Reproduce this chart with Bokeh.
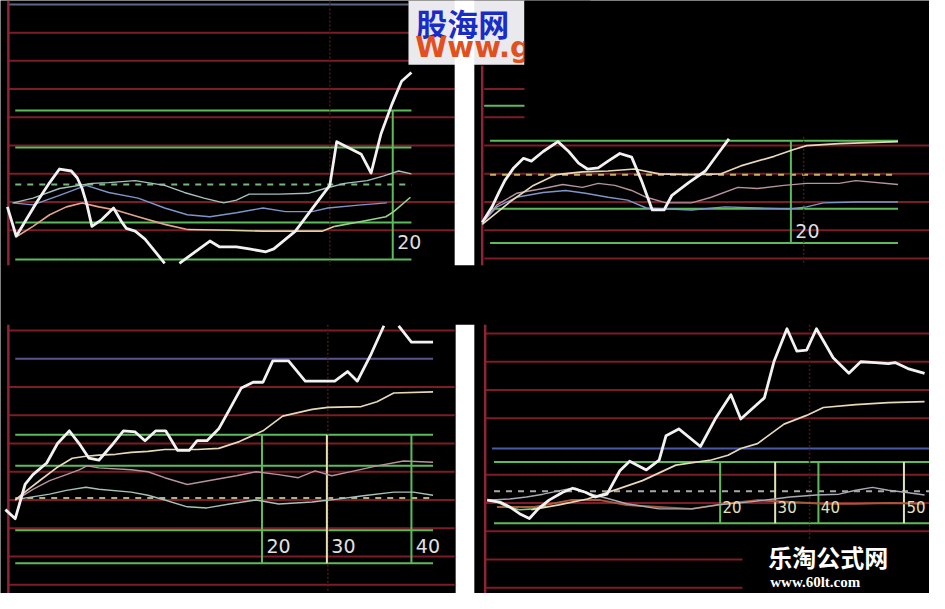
import numpy as np
from bokeh.plotting import figure
from bokeh.models import Range1d
from bokeh.core.properties import value
from bokeh.embed import file_html
from bokeh.resources import INLINE

NAN = float("nan")

# ------------------------------------------------------------------ data
# x = bar position, y = indicator value (each panel has its own scale)
# ---- top-left panel
TL_WHITE_X = [-0.2, 1.6, 3.4, 5.8, 8.4, 10.4, 12.8, 14.0, 15.0, 16.0, 17.0, 19.0, 21.4, 23.0, 24.0, 25.8, 27.8, 31.8, NAN,
              34.8, 41.0, 43.0, 46.4, 49.0, 52.4, 54.0, 58.4, 62.4, 65.4, 66.8, 71.8, 73.8, 75.8, 78.0, 80.0, 82.0]
TL_WHITE_Y = [8.3, -2.1, 3.1, 10.0, 16.9, 21.7, 21.0, 18.6, 14.8, 9.0, 1.4, 3.8, 7.9, 3.1, 0.7, -0.3, -3.1, -11.7, NAN,
              -11.7, -3.8, -5.9, -5.9, -6.6, -7.6, -6.6, -0.3, 9.0, 15.9, 31.4, 26.9, 20.3, 34.1, 44.5, 52.8, 55.9]
TL_CREAM_X = [1.8, 5.0, 8.4, 11.8, 15.0, 18.4, 21.8, 26.4, 31.8, 36.4, 45.0, 51.8, 63.8, 66.4, 71.8, 76.8, 78.4, 81.8]
TL_CREAM_Y = [-2.1, 1.4, 5.5, 8.3, 9.7, 8.3, 7.2, 4.8, 2.1, 0.3, 0.0, -0.3, -0.3, 1.4, 3.1, 4.8, 6.6, 11.7]
TL_UPPER_X = [1.0, 5.0, 10.4, 17.0, 20.4, 25.8, 31.8, 35.8, 39.8, 43.8, 46.4, 49.0, 55.0, 61.0, 64.4, 68.4, 73.0, 76.4, 79.4, 82.0]
TL_UPPER_Y = [9.7, 11.4, 14.8, 16.6, 16.9, 17.6, 15.9, 13.4, 11.4, 9.7, 10.7, 12.8, 12.8, 13.1, 14.8, 16.6, 17.6, 19.3, 21.0, 20.0]
TL_LOWER_X = [0.8, 5.0, 10.4, 15.8, 20.4, 26.4, 31.8, 36.4, 41.0, 46.4, 51.8, 56.4, 61.8, 65.0, 71.8, 77.0]
TL_LOWER_Y = [9.7, 9.0, 12.4, 15.9, 13.4, 11.4, 7.9, 5.5, 4.8, 6.2, 7.9, 6.6, 6.6, 7.9, 9.0, 9.7]
TL_RED = [0, 10, 20, 30, 40, 50, 60, 70]
TL_GREEN = [42.4, 29.3, 2.8, -10.3]
TL_DASH = [16.2]
TL_TOP = [80]
TL_MARK_X = [78.2]
TL_MARK_TXT = ["20"]

# ---- top-right panel
TR_WHITE_X = [0, 2.0, 3.4, 4.6, 6.4, 8.4, 10.0, 12.4, 15.4, 17.6, 19.6, 21.4, 23.6, 25.6, 28.0, 30.4, 32.4, 34.6, 37.0,
              38.6, 42.0, 45.4, 48.0, 50.2]
TR_WHITE_Y = [12.8, 18.3, 23.4, 27.6, 32.1, 35.5, 34.5, 37.9, 41.4, 37.9, 33.8, 31.7, 32.1, 34.5, 37.2, 35.9, 27.6, 17.2,
              17.2, 22.4, 26.9, 31.0, 37.2, 42.4]
TR_CREAM_X = [0, 5.6, 10.4, 15.0, 20.4, 25.6, 31.0, 36.0, 42.6, 48.6, 52.6, 59.4, 63.4, 66.0, 72.6, 84.6]
TR_CREAM_Y = [12.1, 20.0, 25.9, 29.7, 30.7, 31.0, 31.7, 30.0, 29.7, 30.0, 32.8, 36.2, 38.6, 40.0, 40.7, 41.4]
TR_MID_X = [0.4, 3.0, 7.0, 12.4, 16.4, 20.4, 23.6, 27.0, 30.4, 33.4, 37.4, 42.6, 46.6, 52.0, 56.0, 61.4, 66.0, 72.6, 76.0, 84.6]
TR_MID_Y = [13.4, 19.0, 23.1, 24.8, 26.2, 25.2, 26.6, 25.9, 24.1, 21.7, 19.7, 19.7, 21.7, 25.2, 24.8, 25.9, 26.6, 26.6, 27.6, 26.2]
TR_LOW_X = [0.4, 3.0, 7.0, 12.4, 17.0, 21.0, 25.6, 29.6, 33.4, 42.6, 49.4, 56.0, 62.6, 66.0, 69.4, 76.0, 84.6]
TR_LOW_Y = [13.4, 18.3, 21.7, 23.4, 24.1, 23.1, 21.7, 20.7, 17.9, 17.2, 18.3, 17.9, 17.6, 18.3, 19.7, 20.0, 20.0]
TR_RED = [0, 10, 20, 30, 40]
TR_RED_STUB = [50, 60]
TR_GREEN = [41.7, 17.6, 5.5]
TR_GREEN_STUB = [54.1]
TR_DASH = [29.7]
TR_MARK_X = [62.8]
TR_MARK_TXT = ["20"]

# ---- bottom-left panel
BL_WHITE_X = [-0.6, 1.4, 3.4, 5.0, 7.8, 10.0, 12.4, 14.4, 16.4, 18.4, 21.0, 23.4, 25.8, 27.8, 30.0, 32.0, 34.4, 36.8, 38.4,
              40.4, 42.8, 45.0, 47.4, 49.8, 51.8, 53.8, 57.0, 60.4, 66.4, 69.0, 71.0, 73.8, 76.4, NAN, 79.4, 82.0, 86.4]
BL_WHITE_Y = [26.6, 23.4, 35.5, 39.0, 43.1, 50.0, 54.5, 50.0, 44.8, 44.1, 49.3, 54.5, 54.1, 51.0, 54.5, 54.5, 47.6, 47.6,
              51.0, 51.0, 55.2, 62.1, 69.7, 71.7, 71.7, 79.3, 79.3, 72.1, 72.1, 75.5, 72.1, 81.7, 91.7, NAN, 91.7, 85.9, 85.9]
BL_CREAM_X = [1.4, 3.8, 6.4, 9.8, 13.0, 15.8, 18.4, 21.8, 25.0, 28.4, 31.8, 38.4, 42.8, 47.0, 51.8, 55.8, 61.8, 65.0, 71.8,
              75.0, 78.4, 86.4]
BL_CREAM_Y = [30.0, 33.4, 36.9, 41.4, 44.8, 45.5, 45.9, 46.2, 46.9, 47.2, 47.9, 47.9, 48.3, 50.7, 54.5, 59.7, 62.1, 62.8,
              63.1, 64.8, 67.9, 68.3]
BL_MID_X = [1.8, 5.0, 8.4, 11.8, 14.4, 16.0, 18.4, 25.0, 28.4, 31.8, 36.4, 41.8, 46.4, 50.4, 55.0, 59.0, 62.4, 65.8, 70.4,
            75.0, 80.4, 86.4]
BL_MID_Y = [30.3, 33.8, 36.9, 39.0, 40.7, 42.1, 41.4, 40.7, 40.0, 37.9, 35.5, 37.2, 38.6, 40.0, 39.0, 37.9, 40.3, 38.6,
            40.3, 42.1, 43.8, 43.4]
BL_LOW_X = [2.0, 8.4, 11.8, 15.8, 18.4, 25.0, 28.4, 31.8, 36.4, 40.4, 45.0, 50.4, 55.0, 61.8, 67.0, 71.8, 78.4, 82.4, 86.4]
BL_LOW_Y = [30.3, 32.1, 33.4, 34.5, 33.8, 32.8, 31.7, 30.0, 27.6, 27.2, 28.6, 30.0, 28.6, 29.3, 30.3, 31.4, 32.8, 32.8, 31.7]
BL_RED = [0, 10, 20, 30, 40, 50, 60, 70, 90]
BL_PURPLE = [80]
BL_GREEN = [53.1, 42.1, 19.3, 7.6]
BL_DASH = [30.7]
BL_MARK_X = [51.6, 64.8, 82.0]
BL_MARK_TXT = ["20", "30", "40"]

# ---- bottom-right panel
BR_WHITE_X = [0.4, 3.0, 5.0, 7.0, 9.0, 10.8, 13.0, 15.8, 17.8, 20.4, 22.4, 24.8, 27.4, 29.4, 32.8, 35.4, 36.8, 39.4, 43.8,
              46.8, 50.0, 52.0, 56.8, 58.8, 61.4, 63.4, 65.4, 67.4, 70.8, 74.0, 76.4, 79.4, 82.0, 83.4, 86.0, 89.4]
BR_WHITE_Y = [31.0, 30.3, 28.6, 26.2, 24.5, 27.9, 31.0, 33.8, 35.2, 33.8, 32.1, 33.1, 41.4, 44.8, 41.7, 45.2, 53.8, 56.2,
              50.0, 59.7, 68.3, 59.7, 67.2, 80.3, 91.7, 83.8, 84.1, 91.7, 81.4, 75.9, 80.0, 79.7, 79.3, 79.7, 77.6, 75.9]
BR_CREAM_X = [9.4, 15.0, 20.8, 26.8, 32.0, 38.8, 46.0, 49.4, 52.0, 55.4, 60.8, 65.4, 68.8, 75.4, 82.0, 89.4]
BR_CREAM_Y = [27.6, 29.3, 31.4, 34.8, 37.9, 43.4, 45.2, 46.9, 49.3, 51.0, 57.9, 61.0, 63.8, 64.8, 65.5, 65.9]
BR_MID_X = [0.4, 5.0, 8.4, 11.8, 16.4, 18.4, 21.0, 23.8, 28.8, 35.4, 42.0, 47.4, 53.4, 58.8, 62.0, 67.4, 72.0, 75.4, 78.8,
            82.0, 85.4, 89.4]
BR_MID_Y = [31.0, 31.4, 32.1, 33.1, 34.8, 35.2, 33.4, 32.1, 29.7, 27.9, 27.9, 29.3, 30.3, 31.4, 32.1, 32.8, 33.1, 34.5,
            35.5, 34.5, 33.8, 32.8]
BR_LOW_X = [2.4, 10.0, 17.4, 23.4, 28.8, 35.4, 42.0, 48.8, 55.4, 62.0, 68.8, 75.4, 82.0, 89.4]
BR_LOW_Y = [28.6, 28.6, 31.0, 31.0, 29.3, 28.6, 27.9, 29.7, 31.0, 30.3, 29.7, 29.7, 30.0, 29.7]
BR_GRN_X = [0.8, 2.4, 4.4, 7.0, 9.8, 12.4]
BR_GRN_Y = [31.0, 30.3, 28.6, 27.6, 27.9, 28.9]
BR_RED = [20, 30, 40, 60, 70, 80, 90]
BR_RED_SHORT = [0, 10]
BR_BLUE = [49.3]
BR_GREEN = [44.5, 22.8]
BR_DASH = [34.1]
BR_MARK_X = [47.8, 59.0, 67.8, 85.2]
BR_MARK_TXT = ["20", "30", "40", "50"]

WATERMARK_TOP_1 = "股海网"
WATERMARK_TOP_2 = "Www.g"
WATERMARK_BOTTOM_1 = "乐淘公式网"
WATERMARK_BOTTOM_2 = "www.60lt.com"

# ------------------------------------------------------------------ layout
W_REF, H_REF = 945, 609          # collage canvas units
PX_PER_BAR, PX_PER_UNIT = 5.0, 2.9
PANELS = {"tl": (8, 236), "tr": (490, 265), "bl": (8, 600), "br": (493, 603)}

RED = "#7c1c26"
RED_AX = "#8e2434"
GREEN = "#5cbc5c"
PALE = "#e4e2b4"
WHITE = "#f2f2f2"
CREAM = "#e6d8b8"
UPPER = "#a2c2bc"
LOWER = "#7c96c8"
MAUVE = "#b8929e"

p = figure(width=929, height=593, x_range=Range1d(0, W_REF), y_range=Range1d(H_REF, 0),
           x_axis_type=None, y_axis_type=None, toolbar_location=None, output_backend="svg",
           min_border=0, background_fill_color="#000000", border_fill_color="#000000",
           outline_line_color=None)

xr, yr = {}, {}
for k, (x0, y0) in PANELS.items():
    xr[k + "x"] = Range1d(-x0 / PX_PER_BAR, (W_REF - x0) / PX_PER_BAR)
    yr[k + "y"] = Range1d((y0 - H_REF) / PX_PER_UNIT, y0 / PX_PER_UNIT)
p.extra_x_ranges = xr
p.extra_y_ranges = yr


def rn(k):
    return dict(x_range_name=k + "x", y_range_name=k + "y")


def hl(k, levels, xa, xb, color, width=2.0, dash="solid"):
    n = len(levels)
    p.segment(x0=[xa] * n, y0=levels, x1=[xb] * n, y1=levels, line_color=color,
              line_width=width, line_dash=dash, **rn(k))


def vl(k, xs, ya, yb, color, width=2.0, dash="solid"):
    n = len(xs)
    p.segment(x0=xs, y0=[ya] * n, x1=xs, y1=[yb] * n, line_color=color,
              line_width=width, line_dash=dash, **rn(k))


def ln(k, xs, ys, color, width):
    p.line(np.array(xs, dtype=float), np.array(ys, dtype=float), line_color=color,
           line_width=width, line_join="round", **rn(k))


def labels(k, xs, y, txt, color, size="19px", gap=0.9):
    p.text(x=[x + gap for x in xs], y=[y] * len(xs), text=txt, text_color=color,
           text_font=value("DejaVu Sans"), text_font_size=value(size),
           text_align="left", text_baseline="middle", **rn(k))


# ---- top-left
hl("tl", TL_RED, 0, 90.8, RED)
hl("tl", TL_TOP, 0, 81.4, "#5a6a84")
hl("tl", TL_GREEN, 1.4, 82.0, GREEN)
hl("tl", TL_DASH, 1.4, 82.0, "#78b878", 2, "6 6")
vl("tl", [0], 81.4, -12.4, RED_AX, 2.5)
vl("tl", [65.4], 81.4, -12.4, "#4a1a1a", 1.5, "2 2")
vl("tl", TL_MARK_X, TL_GREEN[0], TL_GREEN[-1], GREEN)
ln("tl", TL_LOWER_X, TL_LOWER_Y, LOWER, 1.4)
ln("tl", TL_UPPER_X, TL_UPPER_Y, UPPER, 1.4)
ln("tl", TL_CREAM_X[:10], TL_CREAM_Y[:10], "#e2a48c", 1.6)
ln("tl", TL_CREAM_X[9:14], TL_CREAM_Y[9:14], "#dcd2a4", 1.6)
ln("tl", TL_CREAM_X[13:], TL_CREAM_Y[13:], "#96d488", 1.6)
ln("tl", TL_WHITE_X, TL_WHITE_Y, WHITE, 2.8)
labels("tl", TL_MARK_X, -4.1, TL_MARK_TXT, "#dedede")

# ---- top-right
hl("tr", TR_RED, 0.4, 91.0, RED)
hl("tr", TR_RED_STUB, 0.4, 8.6, RED)
hl("tr", TR_GREEN, 1.6, 84.6, GREEN)
hl("tr", TR_GREEN_STUB, 0.4, 8.6, GREEN)
hl("tr", TR_DASH, 1.6, 84.6, "#c8b468", 2, "6 6")
vl("tr", [0], 68.3, -2.4, RED_AX, 2.5)
vl("tr", [65.4], 43.1, -2.4, "#4a1a1a", 1.5, "2 2")
vl("tr", TR_MARK_X, TR_GREEN[0], TR_GREEN[-1], GREEN)
ln("tr", TR_LOW_X, TR_LOW_Y, LOWER, 1.4)
ln("tr", TR_MID_X, TR_MID_Y, MAUVE, 1.4)
ln("tr", TR_CREAM_X, TR_CREAM_Y, CREAM, 1.7)
ln("tr", TR_WHITE_X, TR_WHITE_Y, WHITE, 2.8)
labels("tr", TR_MARK_X, 9.7, TR_MARK_TXT, "#dedede")

# ---- bottom-left
hl("bl", BL_RED, 0, 90.8, RED)
hl("bl", BL_PURPLE, 1.4, 86.4, "#5e5290")
hl("bl", BL_GREEN, 1.4, 86.4, GREEN)
hl("bl", BL_DASH, 1.4, 86.4, "#b4ac84", 2, "6 6")
vl("bl", [0], 92.1, -3.1, RED_AX, 2.5)
vl("bl", [65.0], 92.1, -3.1, "#4a1a1a", 1.5, "2 2")
vl("bl", BL_MARK_X[0::2], BL_GREEN[0], BL_GREEN[-1], GREEN)
vl("bl", BL_MARK_X[1:2], BL_GREEN[0], BL_GREEN[-1], PALE)
ln("bl", BL_LOW_X, BL_LOW_Y, UPPER, 1.4)
ln("bl", BL_MID_X, BL_MID_Y, MAUVE, 1.4)
ln("bl", BL_CREAM_X, BL_CREAM_Y, CREAM, 1.7)
ln("bl", BL_WHITE_X, BL_WHITE_Y, WHITE, 2.8)
labels("bl", BL_MARK_X, 13.8, BL_MARK_TXT, "#e0e0e0")

# ---- bottom-right
hl("br", BR_RED, 0, 90.4, RED)
hl("br", BR_RED_SHORT, 0, 52.4, RED)
hl("br", BR_BLUE, 1.4, 90.4, "#4a5aa6")
hl("br", BR_GREEN, 1.8, 90.4, GREEN)
hl("br", BR_DASH, 1.8, 90.4, "#a8a8a8", 2, "6 6")
vl("br", [0], 93.1, -2.1, RED_AX, 2.5)
vl("br", [66.0], 93.1, -2.1, "#4a1a1a", 1.5, "2 2")
vl("br", BR_MARK_X[0::2], BR_GREEN[0], BR_GREEN[-1], GREEN)
vl("br", BR_MARK_X[1::2], BR_GREEN[0], BR_GREEN[-1], PALE)
ln("br", BR_LOW_X, BR_LOW_Y, "#a65a3c", 2.0)
ln("br", BR_GRN_X, BR_GRN_Y, "#88c888", 1.6)
ln("br", BR_MID_X, BR_MID_Y, "#a8aab4", 1.4)
ln("br", BR_CREAM_X, BR_CREAM_Y, CREAM, 1.7)
ln("br", BR_WHITE_X, BR_WHITE_Y, WHITE, 2.8)
labels("br", BR_MARK_X, 28.6, BR_MARK_TXT, PALE, size="15px", gap=0.5)

# ---- collage overlays (canvas units)
p.quad(left=[755], right=[945], top=[553], bottom=[609], fill_color="#000000", line_color=None)
p.quad(left=[415], right=[533], top=[0], bottom=[66], fill_color="#e9e9ee", line_color=None)
p.quad(left=[462, 463], right=[482, 482], top=[0, 333], bottom=[272, 609], fill_color="#ffffff", line_color=None)
p.text(x=[423], y=[23], text=[WATERMARK_TOP_1], text_color="#1a2cc8", text_font=value("Noto Sans CJK SC"),
       text_font_style="bold", text_font_size=value("31px"), text_align="left", text_baseline="middle")
p.text(x=[422], y=[48], text=[WATERMARK_TOP_2], text_color="#e2501e", text_font=value("DejaVu Sans"),
       text_font_style="bold", text_font_size=value("29px"), text_align="left", text_baseline="middle")
p.quad(left=[533], right=[600], top=[0], bottom=[66], fill_color="#000000", line_color=None)
p.text(x=[781], y=[571], text=[WATERMARK_BOTTOM_1], text_color="#ffffff", text_font=value("Noto Sans CJK SC"),
       text_font_style="bold", text_font_size=value("24px"), text_align="left", text_baseline="middle")
p.text(x=[783], y=[597], text=[WATERMARK_BOTTOM_2], text_color="#ffffff", text_font=value("Liberation Serif"),
       text_font_style="bold", text_font_size=value("15px"), text_align="left", text_baseline="middle")

open("out.html", "w").write(file_html(p, INLINE))
